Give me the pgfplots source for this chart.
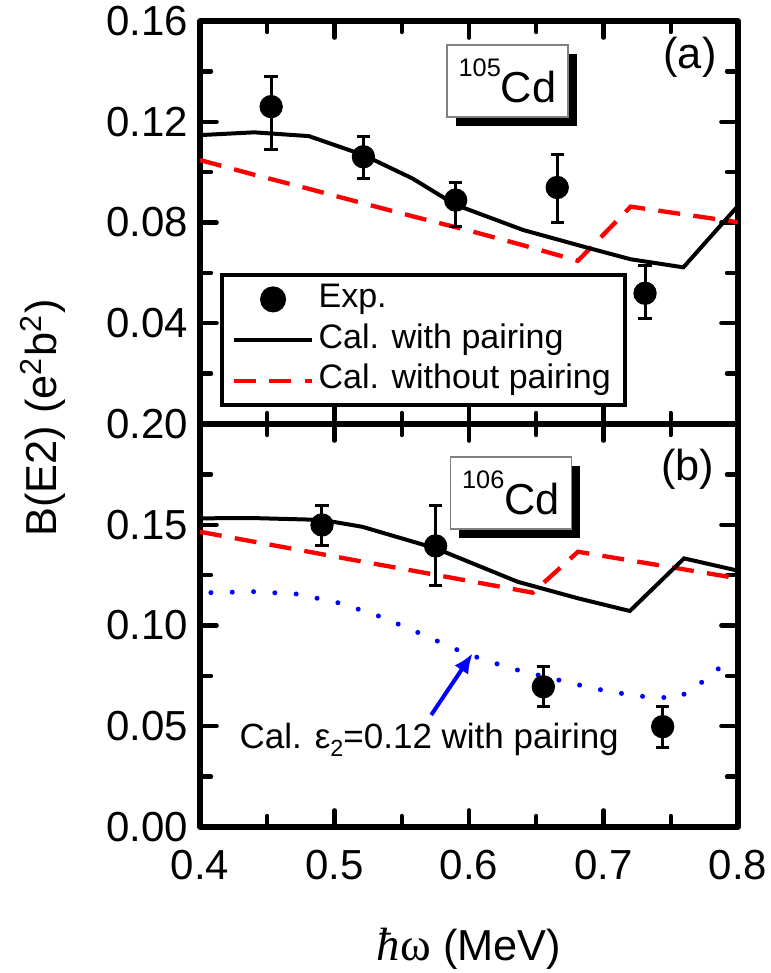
\documentclass[border=0pt]{standalone}
\usepackage{fontspec}
\setmainfont{Liberation Sans}
\newfontfamily\lsr{Liberation Serif}
\usepackage{pgfplots}
\pgfplotsset{compat=1.18}
\usetikzlibrary{arrows.meta,calc,shadows}

\definecolor{calred}{RGB}{255,0,0}
\definecolor{calblue}{RGB}{0,0,255}

\pgfplotsset{
  panel/.style={
    width=161.4pt, height=120.9pt, scale only axis,
    xmin=0.4, xmax=0.8,
    xtick={0.4,0.5,0.6,0.7,0.8}, minor xtick={0.45,0.55,0.65,0.75},
    xtick pos=both, ytick pos=both, tick align=inside,
    axis line style={line width=1.6pt, line join=round},
    major tick length=5pt, minor tick length=3.3pt,
    tick style={black, line width=1.3pt, line cap=round},
    tick label style={font=\fontsize{12.6}{14}\selectfont},
    /pgf/number format/assume math mode=true,
    xticklabel style={/pgf/number format/fixed, /pgf/number format/fixed zerofill,
      /pgf/number format/precision=1},
    yticklabel style={/pgf/number format/fixed, /pgf/number format/fixed zerofill,
      /pgf/number format/precision=2},
  },
  expdata/.style={only marks, mark=*, black, mark size=3.3pt,
    error bars/y dir=both, error bars/y explicit,
    error bars/error bar style={line width=0.9pt, black},
    error bars/error mark options={rotate=90, mark size=2pt, line width=0.9pt, black}},
  withp/.style={black, line width=1.2pt, no marks},
  withoutp/.style={calred, line width=1.3pt, no marks, dash pattern=on 6.6pt off 4pt},
}
\tikzset{
  cdbox/.style={draw=gray, line width=0.4pt, fill=white, inner sep=0pt,
    minimum width=36.3pt, minimum height=21.6pt,
    drop shadow={shadow xshift=2.7pt, shadow yshift=-2.7pt, opacity=1, fill=black}},
}

\newcommand{\lbl}{\fontsize{13}{15}\selectfont}
\newcommand{\nuc}[1]{{\fontsize{7.6}{8}\selectfont\raisebox{8pt}{#1}}{\fontsize{13}{14}\selectfont Cd}}

\begin{document}
\begin{tikzpicture}

% (b) 106Cd
\begin{axis}[panel, name=bot, at={(0,0)}, anchor=south west,
    ymin=0, ymax=0.2,
    ytick={0,0.05,0.10,0.15,0.20}, minor ytick={0.025,0.075,0.125,0.175},
    xticklabel style={yshift=-3.5pt}]
\addplot[withoutp] coordinates {
  (0.40,0.1465) (0.44,0.1416) (0.48,0.1367) (0.52,0.1318) (0.56,0.1270)
  (0.60,0.1221) (0.6474,0.1163) (0.681,0.1366) (0.80,0.1234)};
\addplot[withp] coordinates {
  (0.40,0.1532) (0.4403,0.1533) (0.4907,0.1524) (0.5206,0.1490) (0.5752,0.1383)
  (0.6362,0.1217) (0.6810,0.1135) (0.7196,0.1072) (0.7599,0.1333) (0.80,0.1272)};
\addplot[calblue, line width=1.5pt, line cap=round, dash pattern=on 0pt off 6.4pt, no marks] coordinates {
  (0.4081,0.1163) (0.4403,0.1168) (0.4725,0.1156) (0.5047,0.1110) (0.5355,0.1041)
  (0.5663,0.0953) (0.5971,0.0862) (0.6306,0.0788) (0.6614,0.0738) (0.6922,0.0688)
  (0.7244,0.0650) (0.7552,0.0639) (0.7706,0.0705) (0.7874,0.0796)};
\addplot[expdata] table[x=x, y=y, y error plus=ep, y error minus=em] {
x      y       ep      em
0.4907 0.1499  0.0099  0.0103
0.5752 0.1395  0.0203  0.0197
0.6553 0.0696  0.0100  0.0099
0.7440 0.0498  0.0099  0.0103
};
\draw[-{Latex[length=6pt,width=5pt]}, calblue, line width=1.2pt]
  (axis cs:0.5719,0.0556) -- (axis cs:0.6027,0.0862);
\node[anchor=base west, inner sep=0pt, font=\fontsize{10.5}{12}\selectfont]
  at (axis cs:0.429,0.0392) {Cal. ε\raisebox{-2.5pt}{\fontsize{7}{8}\selectfont 2}=0.12 with pairing};
\node[cdbox] at (axis cs:0.6312,0.1658) {\nuc{106}};
\node[font=\lbl] at (axis cs:0.7628,0.1777) {(b)};
\end{axis}

% (a) 105Cd
\begin{axis}[panel, name=top, at={(0,120.9pt)}, anchor=south west,
    ymin=0, ymax=0.16,
    ytick={0.04,0.08,0.12,0.16}, minor ytick={0.02,0.06,0.10,0.14},
    xticklabels={},
    legend style={at={(rel axis cs:0.037,0.042)}, anchor=south west,
      draw=black, line width=1.2pt, inner xsep=3pt, inner ysep=1.2pt,
      font=\fontsize{10.2}{12}\selectfont, row sep=0pt,
      nodes={inner sep=1.3pt, text height=7.2pt, text depth=2.4pt}},
    legend cell align=left]
\addlegendimage{legend image code/.code={\fill[black] (11.7pt,0pt) circle (3.3pt);}}
\addlegendentry{Exp.}
\addlegendimage{legend image code/.code={\draw[black, line width=1.2pt] (0pt,0pt) -- (23.4pt,0pt);}}
\addlegendentry{Cal. with pairing}
\addlegendimage{legend image code/.code={\draw[calred, line width=1.3pt, dash pattern=on 6.6pt off 4pt] (0pt,0pt) -- (23.4pt,0pt);}}
\addlegendentry{Cal. without pairing}
\addplot[forget plot, withoutp] coordinates {
  (0.40,0.1048) (0.44,0.0990) (0.48,0.0935) (0.52,0.0878) (0.56,0.0822)
  (0.60,0.0768) (0.64,0.0710) (0.681,0.0648) (0.7202,0.0863) (0.80,0.0801)};
\addplot[forget plot, withp] coordinates {
  (0.40,0.1147) (0.4403,0.1158) (0.4809,0.1143) (0.5215,0.1068) (0.5579,0.0975)
  (0.5901,0.0870) (0.6404,0.0770) (0.6866,0.0702) (0.7202,0.0654) (0.7594,0.0622)
  (0.80,0.0866)};
\addplot[forget plot, expdata] table[x=x, y=y, y error plus=ep, y error minus=em] {
x      y       ep      em
0.4529 0.1260  0.0119  0.0172
0.5215 0.1061  0.0080  0.0085
0.5901 0.0889  0.0069  0.0103
0.6656 0.0939  0.0129  0.0140
0.7309 0.0519  0.0111  0.0102
};
\node[cdbox] at (axis cs:0.6286,0.1362) {\nuc{105}};
\node[font=\lbl] at (axis cs:0.7643,0.1457) {(a)};
\end{axis}

\node[rotate=90, font=\lbl] at ($(bot.north west)+(-47.1pt,1.8pt)$)
  {B(E2) (e\textsuperscript{2}b\textsuperscript{2})};
\node[font=\lbl] at ($(bot.south)+(0,-36.6pt)$)
  {{\lsr\fontsize{14}{15}\selectfont\itshape ħ\upshape ω} (MeV)};

\pgfresetboundingbox
\useasboundingbox ($(bot.south west)+(-60pt,-43.8pt)$) rectangle ($(bot.south west)+(171pt,248.1pt)$);
\end{tikzpicture}
\end{document}
